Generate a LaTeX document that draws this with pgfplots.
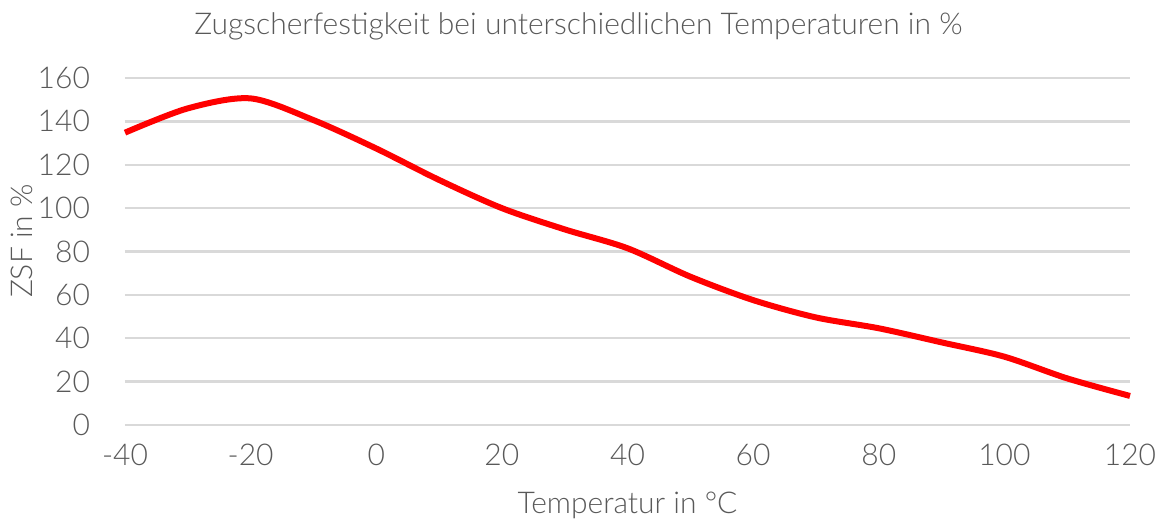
\documentclass[border=0pt]{standalone}
\usepackage{pgfplots}
\pgfplotsset{compat=1.18}
\usepackage{fontspec}
\setmainfont{Lato Light}
\definecolor{txt}{HTML}{595959}
\definecolor{gridc}{HTML}{D9D9D9}
\definecolor{linered}{HTML}{FF0000}

\begin{document}
\begin{tikzpicture}
\begin{axis}[
    scale only axis,
    width=502.5pt, height=173.5pt,
    xmin=-40, xmax=120,
    ymin=0, ymax=160,
    xtick={-40,-20,...,120},
    ytick={0,20,...,160},
    axis line style={draw=none},
    major tick length=0pt,
    ymajorgrids,
    grid style={gridc, line width=1.2pt},
    tick label style={font=\fontsize{15}{18}\selectfont, text=txt},
    /pgf/number format/assume math mode=true,
    xticklabel style={yshift=-6pt},
    yticklabel style={xshift=-14pt},
    title={Zugscherfestigkeit bei unterschiedlichen Temperaturen in \%},
    title style={at={(axis description cs:0.451,1)}, anchor=center, yshift=20pt,
                 font=\fontsize{15}{18}\selectfont, text=txt},
    xlabel={Temperatur in °C},
    xlabel style={at={(axis description cs:0.5,-0.232)}, anchor=center,
                  font=\fontsize{15}{18}\selectfont, text=txt},
    ylabel={ZSF in \%},
    ylabel style={at={(axis description cs:-0.1025,0.53)}, anchor=center, rotate=0,
                  font=\fontsize{15}{18}\selectfont, text=txt},
    clip=false,
]
\addplot[linered, line width=3pt, smooth, tension=0.5] coordinates {
    (-40,134.8) (-30,146) (-20,150.6) (-10,140.6) (0,127.5)
    (10,113) (20,100) (30,90.2) (40,81.5) (50,68.4) (60,57.6)
    (70,49.6) (80,44.6) (90,38.1) (100,31.5) (110,21.5) (120,13.4)
};
\end{axis}
\pgfresetboundingbox
\path[use as bounding box] ([shift={(-62.5pt,-47.5pt)}]current axis.south west)
    rectangle ([shift={(15pt,39pt)}]current axis.north east);
\end{tikzpicture}
\end{document}
